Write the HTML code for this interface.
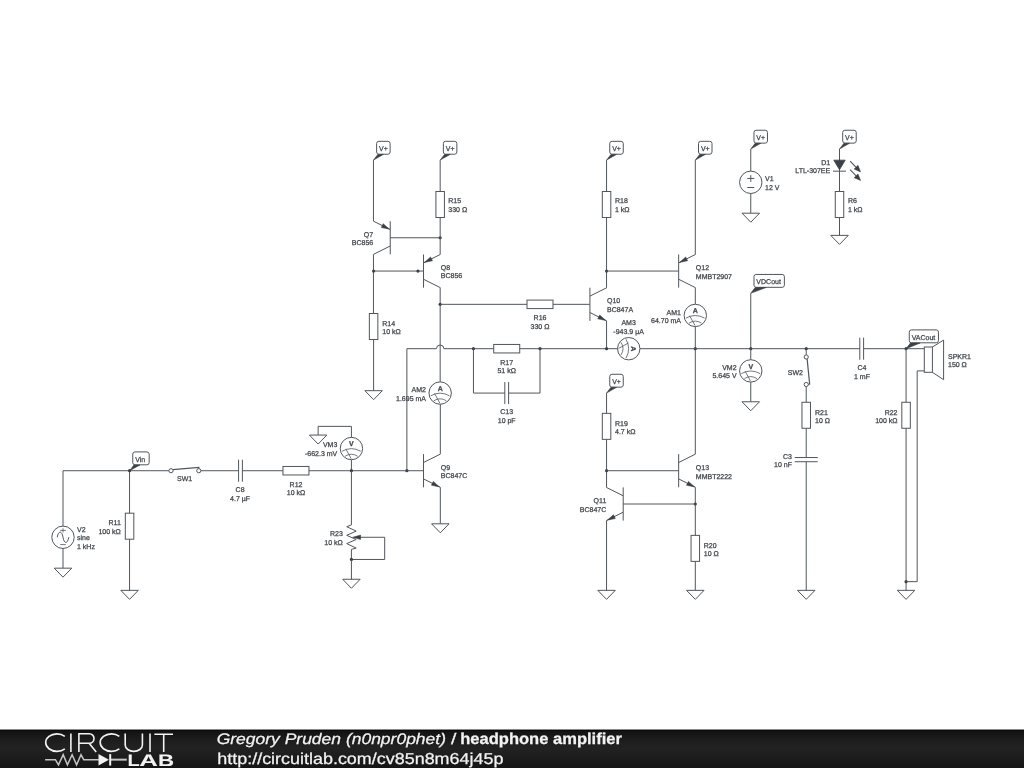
<!DOCTYPE html>
<html><head><meta charset="utf-8"><style>
html,body{margin:0;padding:0;background:#fff;width:1024px;height:768px;overflow:hidden;position:relative}
#sch{position:absolute;left:0;top:0;will-change:transform}
#sch text{font-family:"Liberation Sans",sans-serif;font-size:7px;fill:#3f4449;stroke:#3f4449;stroke-width:0.25px;text-rendering:geometricPrecision}
#bar{position:absolute;left:0;top:729px;width:1024px;height:39px;background:linear-gradient(#8a8a8a 0px,#8a8a8a 1px,#0a0a0a 1px,#0a0a0a 2px,#121212 2px,#1c1c1c 10px,#222 19px,#1d1d1d 28px,#151515 39px)}
#logo{position:absolute;left:0;top:0;will-change:transform}
#ft{position:absolute;left:0;top:0}
</style></head><body>
<svg id="sch" width="1024" height="768" viewBox="0 0 1024 768">
<g fill="none" stroke="#50565b" stroke-width="1">
<line x1="63" y1="470.72" x2="63" y2="526.08"/>
<circle cx="63" cy="537.28" r="11.2"/>
<path d="M57.2,537.28 C58.5,530.38 61.8,530.38 63,537.28 C64.2,544.18 67.5,544.18 68.8,537.28"/>
<path d="M60.2,530.38 h5.6 M63,528.28 v4.2 M60.2,544.58 h5.6" stroke-width="0.8"/>
<line x1="63" y1="548.48" x2="63" y2="568.17"/>
<polygon points="54.25,568.17 71.75,568.17 63,577.17"/>
<line x1="63" y1="470.72" x2="168.9" y2="470.72"/>
<line x1="200.9" y1="470.72" x2="238.59" y2="470.72"/>
<line x1="238.59" y1="459.72" x2="238.59" y2="481.72"/>
<line x1="242.39" y1="459.72" x2="242.39" y2="481.72"/>
<line x1="242.39" y1="470.72" x2="282.95" y2="470.72"/>
<rect x="282.95" y="466.47" width="26" height="8.5"/>
<line x1="308.95" y1="470.72" x2="423.52" y2="470.72"/>
<circle cx="171" cy="470.72" r="2.1"/>
<circle cx="198.8" cy="470.72" r="2.1"/>
<path d="M172.9,469.7 L198.8,467.5 L198.8,468.6" stroke-width="1.2"/>
<line x1="129.56" y1="470.72" x2="129.56" y2="513.19"/>
<rect x="125.31" y="513.19" width="8.5" height="26"/>
<line x1="129.56" y1="539.19" x2="129.56" y2="590.35"/>
<polygon points="120.81,590.35 138.31,590.35 129.56,599.35"/>
<rect x="132.76" y="451.92" width="16.4" height="12.9" rx="2.2"/>
<polygon points="129.56,470.72 133.96,465.02 139.96,465.02" fill="#3a4045" stroke="#3a4045" stroke-width="0.6"/>
<circle cx="129.56" cy="470.72" r="1.6" fill="#3a4045" stroke="none"/>
<circle cx="351.42" cy="448.54" r="11.2"/>
<g transform="translate(351.42,448.54) rotate(0)"><path d="M-9.4,2.7 Q0,-2.5 9.3,2.7 M-6.3,7.7 Q0,3.7 6.2,7.7 M-5.65,0.35 L-0.25,10.15" stroke-width="0.8"/><text x="0" y="-2.3" text-anchor="middle" font-size="8" font-weight="bold" stroke-width="0.1">V</text></g>
<line x1="351.42" y1="470.72" x2="351.42" y2="459.74"/>
<line x1="351.42" y1="437.34" x2="351.42" y2="426.35"/>
<polyline points="351.42,426.35 318.14,426.35 318.14,435.05"/>
<polygon points="309.39,435.05 326.89,435.05 318.14,444.05"/>
<circle cx="351.42" cy="470.72" r="1.6" fill="#3a4045" stroke="none"/>
<line x1="351.42" y1="470.72" x2="351.42" y2="524.9"/>
<polyline points="351.42,524.9 346.7,526.7 356.2,531.1 346.7,535.3 356.2,539.5 346.7,543.6 356.2,548.1 351.42,549.4"/>
<line x1="351.42" y1="549.4" x2="351.42" y2="559.47"/>
<polyline points="384.7,537.28 384.7,559.47 351.42,559.47"/>
<line x1="384.7" y1="537.28" x2="360" y2="537.28"/>
<polygon points="352.6,537.28 360.6,535.08 360.6,539.48" fill="#3a4045" stroke="#3a4045" stroke-width="0.5"/>
<circle cx="351.42" cy="559.47" r="1.6" fill="#3a4045" stroke="none"/>
<line x1="351.42" y1="559.47" x2="351.42" y2="579.26"/>
<polygon points="342.67,579.26 360.17,579.26 351.42,588.26"/>
<circle cx="406.88" cy="470.72" r="1.6" fill="#3a4045" stroke="none"/>
<line x1="423.52" y1="454.12" x2="423.52" y2="487.32"/>
<line x1="423.52" y1="462.52" x2="440.32" y2="454.12"/>
<line x1="423.52" y1="478.92" x2="440.32" y2="487.32"/>
<polygon points="439.48,486.9 431.37,485.25 433.29,481.4" fill="#3a4045" stroke="#3a4045" stroke-width="0.5"/>
<line x1="440.32" y1="487.32" x2="440.32" y2="523.8"/>
<polygon points="431.57,523.8 449.07,523.8 440.32,532.8"/>
<line x1="440.32" y1="454.12" x2="440.32" y2="404.27"/>
<circle cx="440.16" cy="393.07" r="11.2"/>
<g transform="translate(440.16,393.07) rotate(0)"><path d="M-9.4,2.7 Q0,-2.5 9.3,2.7 M-6.3,7.7 Q0,3.7 6.2,7.7 M-5.65,0.35 L-0.25,10.15" stroke-width="0.8"/><text x="0" y="-2.3" text-anchor="middle" font-size="8" font-weight="bold" stroke-width="0.1">A</text></g>
<line x1="440.16" y1="381.87" x2="440.16" y2="287.69"/>
<polyline points="406.88,470.72 406.88,348.7 436.46,348.7"/>
<path d="M436.46,348.7 A3.7,3.7 0 0 1 443.86,348.7"/>
<line x1="443.86" y1="348.7" x2="493.72" y2="348.7"/>
<rect x="493.72" y="344.45" width="26" height="8.5"/>
<line x1="519.72" y1="348.7" x2="617.54" y2="348.7"/>
<circle cx="473.44" cy="348.7" r="1.6" fill="#3a4045" stroke="none"/>
<circle cx="540" cy="348.7" r="1.6" fill="#3a4045" stroke="none"/>
<polyline points="473.44,348.7 473.44,393.07 504.82,393.07"/>
<line x1="504.82" y1="382.07" x2="504.82" y2="404.07"/>
<line x1="508.62" y1="382.07" x2="508.62" y2="404.07"/>
<polyline points="508.62,393.07 540,393.07 540,348.7"/>
<line x1="390.24" y1="221.17" x2="390.24" y2="254.37"/>
<line x1="390.24" y1="229.57" x2="373.44" y2="221.17"/>
<line x1="390.24" y1="245.97" x2="373.44" y2="254.37"/>
<polygon points="389.4,229.15 381.29,227.5 383.21,223.65" fill="#3a4045" stroke="#3a4045" stroke-width="0.5"/>
<line x1="373.44" y1="221.17" x2="373.44" y2="160.12"/>
<rect x="376.64" y="141.32" width="13.5" height="12.9" rx="2.2"/>
<polygon points="373.44,160.12 377.84,154.42 383.39,154.42" fill="#3a4045" stroke="#3a4045" stroke-width="0.6"/>
<line x1="373.44" y1="254.37" x2="373.44" y2="313.51"/>
<rect x="369.35" y="313.51" width="8.5" height="26"/>
<line x1="373.6" y1="339.51" x2="373.6" y2="390.68"/>
<polygon points="364.85,390.68 382.35,390.68 373.6,399.68"/>
<line x1="390.24" y1="237.77" x2="440.16" y2="237.77"/>
<circle cx="440.16" cy="237.77" r="1.6" fill="#3a4045" stroke="none"/>
<rect x="443.36" y="141.32" width="13.5" height="12.9" rx="2.2"/>
<polygon points="440.16,160.12 444.56,154.42 450.11,154.42" fill="#3a4045" stroke="#3a4045" stroke-width="0.6"/>
<line x1="440.16" y1="160.12" x2="440.16" y2="191.49"/>
<rect x="435.91" y="191.49" width="8.5" height="26"/>
<line x1="440.16" y1="217.49" x2="440.16" y2="254.41"/>
<line x1="423.52" y1="254.45" x2="423.52" y2="287.65"/>
<line x1="423.52" y1="262.85" x2="440.32" y2="254.45"/>
<line x1="423.52" y1="279.25" x2="440.32" y2="287.65"/>
<polygon points="424.36,262.43 430.56,256.93 432.48,260.77" fill="#3a4045" stroke="#3a4045" stroke-width="0.5"/>
<line x1="373.6" y1="271.05" x2="423.52" y2="271.05"/>
<circle cx="373.6" cy="271.05" r="1.6" fill="#3a4045" stroke="none"/>
<circle cx="417.98" cy="271.05" r="1.6" fill="#3a4045" stroke="none"/>
<circle cx="440.16" cy="304.33" r="1.6" fill="#3a4045" stroke="none"/>
<line x1="440.16" y1="304.33" x2="527" y2="304.33"/>
<rect x="527" y="300.08" width="26" height="8.5"/>
<line x1="553" y1="304.33" x2="589.92" y2="304.33"/>
<line x1="589.92" y1="287.73" x2="589.92" y2="320.93"/>
<line x1="589.92" y1="296.13" x2="606.72" y2="287.73"/>
<line x1="589.92" y1="312.53" x2="606.72" y2="320.93"/>
<polygon points="605.88,320.51 597.76,318.85 599.68,315.01" fill="#3a4045" stroke="#3a4045" stroke-width="0.5"/>
<line x1="606.56" y1="320.97" x2="606.56" y2="348.7"/>
<circle cx="606.56" cy="348.7" r="1.6" fill="#3a4045" stroke="none"/>
<line x1="606.56" y1="287.69" x2="606.56" y2="217.49"/>
<rect x="602.31" y="191.49" width="8.5" height="26"/>
<line x1="606.56" y1="191.49" x2="606.56" y2="160.12"/>
<rect x="609.76" y="141.32" width="13.5" height="12.9" rx="2.2"/>
<polygon points="606.56,160.12 610.96,154.42 616.51,154.42" fill="#3a4045" stroke="#3a4045" stroke-width="0.6"/>
<circle cx="606.56" cy="271.05" r="1.6" fill="#3a4045" stroke="none"/>
<line x1="606.56" y1="271.05" x2="678.66" y2="271.05"/>
<line x1="678.66" y1="254.45" x2="678.66" y2="287.65"/>
<line x1="678.66" y1="262.85" x2="695.46" y2="254.45"/>
<line x1="678.66" y1="279.25" x2="695.46" y2="287.65"/>
<polygon points="679.5,262.43 685.7,256.93 687.62,260.77" fill="#3a4045" stroke="#3a4045" stroke-width="0.5"/>
<line x1="695.3" y1="254.41" x2="695.3" y2="160.12"/>
<rect x="698.5" y="141.32" width="13.5" height="12.9" rx="2.2"/>
<polygon points="695.3,160.12 699.7,154.42 705.25,154.42" fill="#3a4045" stroke="#3a4045" stroke-width="0.6"/>
<line x1="695.3" y1="287.69" x2="695.3" y2="304.22"/>
<circle cx="695.3" cy="315.42" r="11.2"/>
<g transform="translate(695.3,315.42) rotate(0)"><path d="M-9.4,2.7 Q0,-2.5 9.3,2.7 M-6.3,7.7 Q0,3.7 6.2,7.7 M-5.65,0.35 L-0.25,10.15" stroke-width="0.8"/><text x="0" y="-2.3" text-anchor="middle" font-size="8" font-weight="bold" stroke-width="0.1">A</text></g>
<line x1="695.3" y1="326.62" x2="695.3" y2="454.08"/>
<circle cx="695.3" cy="348.7" r="1.6" fill="#3a4045" stroke="none"/>
<circle cx="628.74" cy="348.7" r="11.2"/>
<g transform="translate(628.74,348.7) rotate(90)"><path d="M-9.4,2.7 Q0,-2.5 9.3,2.7 M-6.3,7.7 Q0,3.7 6.2,7.7 M-5.65,0.35 L-0.25,10.15" stroke-width="0.8"/><text x="0" y="-2.3" text-anchor="middle" font-size="8" font-weight="bold" stroke-width="0.1">A</text></g>
<line x1="639.94" y1="348.7" x2="859.8" y2="348.7"/>
<line x1="859.8" y1="337.7" x2="859.8" y2="359.7"/>
<line x1="863.6" y1="337.7" x2="863.6" y2="359.7"/>
<line x1="863.6" y1="348.7" x2="924.3" y2="348.7"/>
<circle cx="750.77" cy="348.7" r="1.6" fill="#3a4045" stroke="none"/>
<circle cx="806.23" cy="348.7" r="1.6" fill="#3a4045" stroke="none"/>
<rect x="753.97" y="130.23" width="13.5" height="12.9" rx="2.2"/>
<polygon points="750.77,149.03 755.17,143.33 760.72,143.33" fill="#3a4045" stroke="#3a4045" stroke-width="0.6"/>
<line x1="750.77" y1="149.03" x2="750.77" y2="171.1"/>
<circle cx="750.77" cy="182.3" r="11.2"/>
<path d="M747.27,178.45 h7 M750.77,175.1 v6.8 M747.27,187.5 h7"/>
<line x1="750.77" y1="193.5" x2="750.77" y2="213.19"/>
<polygon points="742.02,213.19 759.52,213.19 750.77,222.19"/>
<rect x="842.71" y="130.23" width="13.5" height="12.9" rx="2.2"/>
<polygon points="839.51,149.03 843.91,143.33 849.46,143.33" fill="#3a4045" stroke="#3a4045" stroke-width="0.6"/>
<line x1="839.51" y1="149.03" x2="839.51" y2="191.49"/>
<polygon points="833.81,160.17 845.21,160.17 839.51,169.67" fill="#3a4045" stroke="#3a4045" stroke-width="0.8"/>
<line x1="833.01" y1="171.17" x2="846.01" y2="171.17"/>
<line x1="850.1" y1="161.1" x2="857.6" y2="168.8" stroke-width="1.1"/>
<polygon points="860.6,171.9 854.13,169.12 858,165.36" fill="#3a4045" stroke="#3a4045" stroke-width="0.5"/>
<line x1="850.1" y1="169.7" x2="857.6" y2="177.4" stroke-width="1.1"/>
<polygon points="860.6,180.5 854.13,177.72 858,173.96" fill="#3a4045" stroke="#3a4045" stroke-width="0.5"/>
<rect x="835.26" y="191.49" width="8.5" height="26"/>
<line x1="839.51" y1="217.49" x2="839.51" y2="235.38"/>
<polygon points="830.76,235.38 848.26,235.38 839.51,244.38"/>
<rect x="753.97" y="274.44" width="30.4" height="12.9" rx="2.2"/>
<polygon points="750.77,293.24 755.17,287.54 766.07,287.54" fill="#3a4045" stroke="#3a4045" stroke-width="0.6"/>
<line x1="750.77" y1="293.24" x2="750.77" y2="359.69"/>
<circle cx="750.77" cy="370.89" r="11.2"/>
<g transform="translate(750.77,370.89) rotate(0)"><path d="M-9.4,2.7 Q0,-2.5 9.3,2.7 M-6.3,7.7 Q0,3.7 6.2,7.7 M-5.65,0.35 L-0.25,10.15" stroke-width="0.8"/><text x="0" y="-2.3" text-anchor="middle" font-size="8" font-weight="bold" stroke-width="0.1">V</text></g>
<line x1="750.77" y1="382.09" x2="750.77" y2="401.77"/>
<polygon points="742.02,401.77 759.52,401.77 750.77,410.77"/>
<line x1="806.23" y1="348.7" x2="806.23" y2="354.9"/>
<circle cx="806.23" cy="357" r="2.1"/>
<circle cx="806.23" cy="384.5" r="2.1"/>
<path d="M807.13,358.9 L809.63,384.0 L808.43,384.5" stroke-width="1.2"/>
<line x1="806.23" y1="386.6" x2="806.23" y2="402.26"/>
<rect x="801.98" y="402.26" width="8.5" height="26"/>
<line x1="806.23" y1="428.26" x2="806.23" y2="457.53"/>
<line x1="794.73" y1="457.53" x2="817.73" y2="457.53"/>
<line x1="794.73" y1="461.73" x2="817.73" y2="461.73"/>
<line x1="806.23" y1="461.73" x2="806.23" y2="590.35"/>
<polygon points="797.48,590.35 814.98,590.35 806.23,599.35"/>
<rect x="909.27" y="329.9" width="29.2" height="12.9" rx="2.2"/>
<polygon points="906.07,348.7 910.47,343 920.17,343" fill="#3a4045" stroke="#3a4045" stroke-width="0.6"/>
<circle cx="906.07" cy="348.7" r="1.6" fill="#3a4045" stroke="none"/>
<line x1="906.07" y1="348.7" x2="906.07" y2="402.26"/>
<rect x="901.82" y="402.26" width="8.5" height="26"/>
<line x1="906.07" y1="428.26" x2="906.07" y2="590.35"/>
<polygon points="897.32,590.35 914.82,590.35 906.07,599.35"/>
<circle cx="906.07" cy="581.65" r="1.6" fill="#3a4045" stroke="none"/>
<polyline points="906.07,581.65 917.16,581.65 917.16,370.89 924.3,370.89"/>
<rect x="924.3" y="347" width="8.1" height="25.3"/>
<polyline points="932.4,347 943.6,340.1 943.6,379.7 932.4,372.3"/>
<rect x="609.76" y="374.27" width="13.5" height="12.9" rx="2.2"/>
<polygon points="606.56,393.07 610.96,387.37 616.51,387.37" fill="#3a4045" stroke="#3a4045" stroke-width="0.6"/>
<line x1="606.56" y1="393.07" x2="606.56" y2="413.35"/>
<rect x="602.31" y="413.35" width="8.5" height="26"/>
<line x1="606.56" y1="439.35" x2="606.56" y2="487.36"/>
<circle cx="606.56" cy="470.72" r="1.6" fill="#3a4045" stroke="none"/>
<line x1="606.56" y1="470.72" x2="678.66" y2="470.72"/>
<line x1="678.66" y1="454.12" x2="678.66" y2="487.32"/>
<line x1="678.66" y1="462.52" x2="695.46" y2="454.12"/>
<line x1="678.66" y1="478.92" x2="695.46" y2="487.32"/>
<polygon points="694.62,486.9 686.5,485.25 688.43,481.4" fill="#3a4045" stroke="#3a4045" stroke-width="0.5"/>
<line x1="695.3" y1="487.36" x2="695.3" y2="535.37"/>
<circle cx="695.3" cy="504" r="1.6" fill="#3a4045" stroke="none"/>
<rect x="691.05" y="535.37" width="8.5" height="26"/>
<line x1="695.3" y1="561.37" x2="695.3" y2="590.35"/>
<polygon points="686.55,590.35 704.05,590.35 695.3,599.35"/>
<line x1="623.2" y1="487.4" x2="623.2" y2="520.6"/>
<line x1="623.2" y1="495.8" x2="606.4" y2="487.4"/>
<line x1="623.2" y1="512.2" x2="606.4" y2="520.6"/>
<polygon points="607.24,520.18 613.43,514.68 615.35,518.53" fill="#3a4045" stroke="#3a4045" stroke-width="0.5"/>
<line x1="623.2" y1="504" x2="695.3" y2="504"/>
<line x1="606.56" y1="520.64" x2="606.56" y2="590.35"/>
<polygon points="597.81,590.35 615.31,590.35 606.56,599.35"/>
</g>
<g>
<text x="77" y="531.6">V2</text>
<text x="77" y="540.15">sine</text>
<text x="77" y="548.7">1 kHz</text>
<text x="184.6" y="480.6" text-anchor="middle">SW1</text>
<text x="240.1" y="492.2" text-anchor="middle">C8</text>
<text x="240.1" y="500.75" text-anchor="middle">4.7 µF</text>
<text x="296" y="486.6" text-anchor="middle">R12</text>
<text x="296" y="495.15" text-anchor="middle">10 kΩ</text>
<text x="120.8" y="525.2" text-anchor="end">R11</text>
<text x="120.8" y="533.75" text-anchor="end">100 kΩ</text>
<text x="135.16" y="461.72" fill="#2f3438" stroke="#2f3438">Vin</text>
<text x="337.3" y="447.2" text-anchor="end">VM3</text>
<text x="337.3" y="455.75" text-anchor="end">-662.3 mV</text>
<text x="342.8" y="536" text-anchor="end">R23</text>
<text x="342.8" y="544.55" text-anchor="end">10 kΩ</text>
<text x="440.8" y="469.8">Q9</text>
<text x="440.8" y="478.35">BC847C</text>
<text x="426" y="392.2" text-anchor="end">AM2</text>
<text x="426" y="400.75" text-anchor="end">1.695 mA</text>
<text x="506.7" y="364.6" text-anchor="middle">R17</text>
<text x="506.7" y="373.15" text-anchor="middle">51 kΩ</text>
<text x="506.7" y="414.4" text-anchor="middle">C13</text>
<text x="506.7" y="422.95" text-anchor="middle">10 pF</text>
<text x="379.04" y="151.12" fill="#2f3438" stroke="#2f3438">V+</text>
<text x="382.3" y="325.9">R14</text>
<text x="382.3" y="334.45">10 kΩ</text>
<text x="373.2" y="236.8" text-anchor="end">Q7</text>
<text x="373.2" y="245.35" text-anchor="end">BC856</text>
<text x="445.76" y="151.12" fill="#2f3438" stroke="#2f3438">V+</text>
<text x="448.3" y="203.4">R15</text>
<text x="448.3" y="211.95">330 Ω</text>
<text x="440.8" y="269.9">Q8</text>
<text x="440.8" y="278.45">BC856</text>
<text x="540" y="320.1" text-anchor="middle">R16</text>
<text x="540" y="328.65" text-anchor="middle">330 Ω</text>
<text x="607" y="303.1">Q10</text>
<text x="607" y="311.65">BC847A</text>
<text x="612.16" y="151.12" fill="#2f3438" stroke="#2f3438">V+</text>
<text x="615" y="203.4">R18</text>
<text x="615" y="211.95">1 kΩ</text>
<text x="700.9" y="151.12" fill="#2f3438" stroke="#2f3438">V+</text>
<text x="695.8" y="270.1">Q12</text>
<text x="695.8" y="278.65">MMBT2907</text>
<text x="681" y="314.8" text-anchor="end">AM1</text>
<text x="681" y="323.35" text-anchor="end">64.70 mA</text>
<text x="628.6" y="325" text-anchor="middle">AM3</text>
<text x="628.6" y="333.55" text-anchor="middle">-943.9 µA</text>
<text x="862" y="370.1" text-anchor="middle">C4</text>
<text x="862" y="378.65" text-anchor="middle">1 mF</text>
<text x="756.37" y="140.03" fill="#2f3438" stroke="#2f3438">V+</text>
<text x="765" y="181.4">V1</text>
<text x="765" y="189.95">12 V</text>
<text x="845.11" y="140.03" fill="#2f3438" stroke="#2f3438">V+</text>
<text x="830.2" y="164.6" text-anchor="end">D1</text>
<text x="830.2" y="173.15" text-anchor="end">LTL-307EE</text>
<text x="848" y="203.4">R6</text>
<text x="848" y="211.95">1 kΩ</text>
<text x="756.37" y="284.24" fill="#2f3438" stroke="#2f3438">VDCout</text>
<text x="736.6" y="369.8" text-anchor="end">VM2</text>
<text x="736.6" y="378.35" text-anchor="end">5.645 V</text>
<text x="803" y="374.6" text-anchor="end">SW2</text>
<text x="815" y="414.6">R21</text>
<text x="815" y="423.15">10 Ω</text>
<text x="792" y="458.9" text-anchor="end">C3</text>
<text x="792" y="467.45" text-anchor="end">10 nF</text>
<text x="911.67" y="339.7" fill="#2f3438" stroke="#2f3438">VACout</text>
<text x="897.5" y="414.6" text-anchor="end">R22</text>
<text x="897.5" y="423.15" text-anchor="end">100 kΩ</text>
<text x="948" y="358.8">SPKR1</text>
<text x="948" y="367.35">150 Ω</text>
<text x="612.16" y="384.07" fill="#2f3438" stroke="#2f3438">V+</text>
<text x="615" y="425.6">R19</text>
<text x="615" y="434.15">4.7 kΩ</text>
<text x="695.8" y="470.1">Q13</text>
<text x="695.8" y="478.65">MMBT2222</text>
<text x="703.8" y="547.6">R20</text>
<text x="703.8" y="556.15">10 Ω</text>
<text x="606.3" y="503.4" text-anchor="end">Q11</text>
<text x="606.3" y="511.95" text-anchor="end">BC847C</text>
</g>
</svg>

<div id="bar"></div>
<svg id="logo" width="1024" height="768" viewBox="0 0 1024 768">
 <g fill="none" stroke="#f3f3f3" stroke-width="1.6" stroke-linecap="butt" transform="translate(0,0.4)">
  <path d="M64.84,735.9 A11.3,8.75 0 1 0 64.84,748.5"/>
  <path d="M70.9,733 V751.6"/>
  <path d="M78.9,751.6 V733.4 H89.3 A4.7,4.7 0 0 1 89.3,742.8 H78.9 M89.1,742.8 L96.2,751.6"/>
  <path d="M119.34,735.9 A11.3,8.75 0 1 0 119.34,748.5"/>
  <path d="M125.2,733 V744.5 A8.6,6.5 0 0 0 142.4,744.5 V733"/>
  <path d="M150,733 V751.6"/>
  <path d="M154.4,733.8 H173 M163.7,733.8 V751.6"/>
 </g>
 <g fill="none" stroke="#c4c4c4" stroke-width="1.5" stroke-linejoin="miter">
  <polyline points="45.1,759.7 55.4,759.7 58.5,764.9 63.2,754.7 67.4,764.9 72.1,754.7 76.6,764.9 81,754.7 83.75,759.7 98.8,759.7"/>
  <line x1="111" y1="759.65" x2="126.8" y2="759.65" stroke-width="2"/>
 </g>
 <polygon points="98.5,754.1 108.9,759.8 98.5,765.6" fill="#f3f3f3"/>
 <line x1="110.2" y1="754.1" x2="110.2" y2="765.6" stroke="#f3f3f3" stroke-width="2"/>
 <g fill="#f3f3f3" stroke="#f3f3f3" stroke-width="0.25" font-family="Liberation Sans, sans-serif" style="text-rendering:geometricPrecision">
<text transform="matrix(1.1429,0,0,1,216.64,744.45)" font-size="15.3" font-style="italic">Gregory Pruden (n0npr0phet)</text>
<text transform="matrix(1.2703,0,0,1,450.90,744.45)" font-size="15.3">/</text>
<text transform="matrix(1.0432,0,0,1,460.25,744.45)" font-size="15.85" font-weight="bold">headphone amplifier</text>
<text transform="matrix(1.1355,0,0,1,217.26,763.6)" font-size="15.8">http://circuitlab.com/cv85n8m64j45p</text>
<text transform="matrix(0.19876,0,0,0.16715,127.57,765.60)" font-size="100" font-weight="bold">L</text>
<text transform="matrix(0.25786,0,0,0.16715,139.26,765.60)" font-size="100" font-weight="bold">A</text>
<text transform="matrix(0.22300,0,0,0.16715,158.11,765.60)" font-size="100" font-weight="bold">B</text>
 </g>
</svg>


</body></html>
